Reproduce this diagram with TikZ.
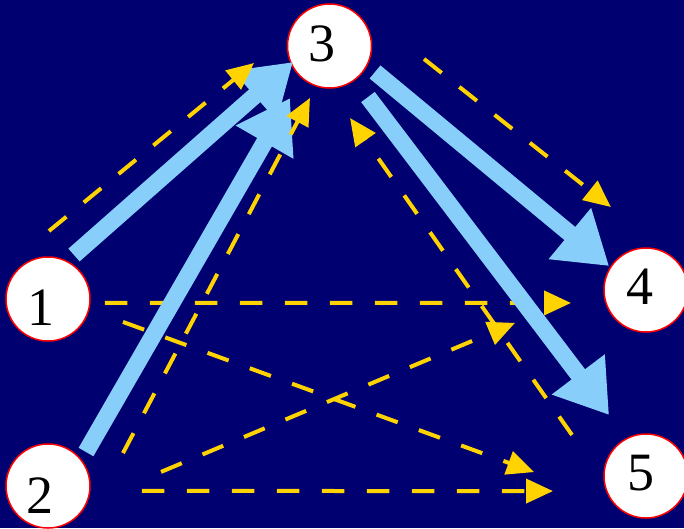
\documentclass[tikz,border=0pt]{standalone}
\usepackage{fontspec}
\setmainfont{Liberation Serif}
\usetikzlibrary{arrows.meta,calc}
\definecolor{bg}{RGB}{0,0,112}
\definecolor{skyb}{RGB}{136,206,250}
\definecolor{goldy}{RGB}{255,211,0}
\begin{document}
\begin{tikzpicture}[x=1pt,y=1pt,
  vertex/.style={circle,draw=red,line width=1.5pt,fill=white,minimum size=84pt,inner sep=0pt,outer sep=0pt},
  num/.style={inner sep=0pt,font=\fontsize{54}{54}\selectfont},
  bluearrow/.style={draw=skyb,line width=17pt,-{Triangle[length=51pt,width=63pt]}},
  goldarrow/.style={draw=goldy,line width=4pt,dash pattern=on 22.5pt off 22.5pt,-{Triangle[length=27pt,width=24pt]}}]
\fill[bg] (0,0) rectangle (684,-528);
\useasboundingbox (0,0) rectangle (684,-528);
% circles
\node[vertex] (c1) at (48,-299) {};
\node[vertex] (c2) at (48,-486) {};
\node[vertex] (c3) at (329.5,-46) {};
\node[vertex] (c4) at (646,-290) {};
\node[vertex] (c5) at (646,-476) {};
% labels
\node[num] (t1) at (41,-308) {1};
\node[num] (t2) at (40,-496) {2};
\node[num] (t3) at (322,-43.5) {3};
\node[num] (t4) at (640,-287) {4};
\node[num] (t5) at (641,-473.5) {5};
% dashed arrows below the thick ones
\draw[goldarrow] ($(c5)+(151:84.6)$) -- ($(c3)+(-74.1:74.9)$);
\draw[goldarrow] ($(c1)+(-4:57.1)$) -- ($(c4)+(189.8:76.1)$);
\draw[goldarrow] ($(c1)+(-17:78.4)$) -- ($(c5)+(178:112.1)$);
\draw[goldarrow] ($(c2)+(7.1:113.9)$) -- ($(c4)+(194.1:135.1)$);
\draw[goldarrow] ($(c2)+(-3:94.1)$) -- ($(c5)+(189.2:94.2)$);
% thick arrows
\draw[bluearrow] ($(c1)+(59.4:51.1)$) -- ($(c3)+(203.7:39.9)$);
\draw[bluearrow] ($(c2)+(41.8:51)$) -- ($(c3)+(232.8:65.3)$);
\draw[bluearrow] ($(c3)+(-29.7:52.4)$) -- ($(c4)+(147:44)$);
\draw[bluearrow] ($(c3)+(-53:63.9)$) -- ($(c5)+(121.2:71.3)$);
% dashed arrows above the thick ones
\draw[goldarrow] ($(c1)+(89.2:68)$) -- ($(c3)+(192.7:77.4)$);
\draw[goldarrow] ($(c2)+(23.7:81.9)$) -- ($(c3)+(249.4:55.5)$);
\draw[goldarrow] ($(c3)+(-7.8:95.4)$) -- ($(c4)+(112.9:90.1)$);
\end{tikzpicture}
\end{document}
